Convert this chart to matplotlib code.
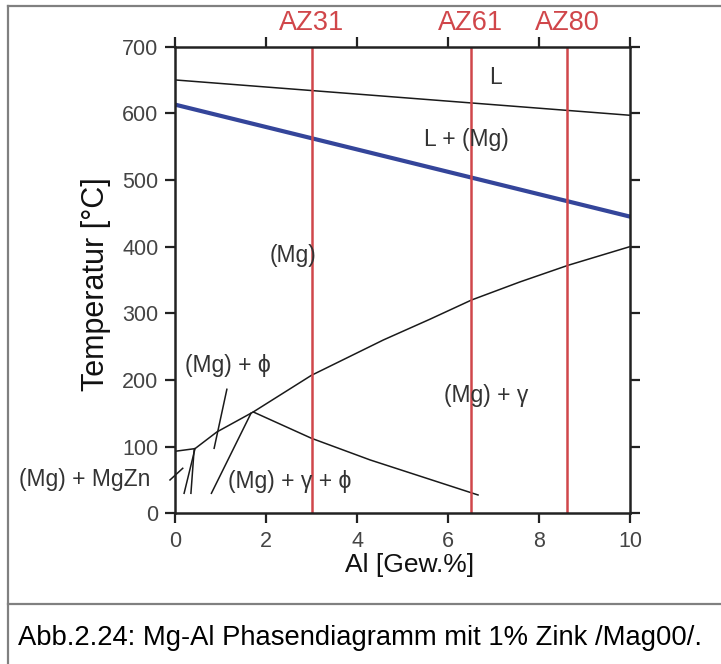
import matplotlib
matplotlib.use("Agg")
import matplotlib.pyplot as plt
from matplotlib.lines import Line2D

plt.rcParams['font.family'] = ['Liberation Sans', 'DejaVu Sans']

# ---- data ----
liquidus_x = [0, 10]
liquidus_T = [650, 597]
solidus_x = [0, 10]
solidus_T = [613, 445]
solvus_x = [0, 0.44, 0.92, 1.72, 3.0, 4.58, 5.6, 6.52, 7.58, 8.64, 10]
solvus_T = [93, 97, 122, 152, 207, 260, 291, 320, 347, 372, 400]
phi_solvus_x = [1.72, 3.0, 4.29, 6.66]
phi_solvus_T = [152, 112.5, 80, 27.5]
phi_line_x = [0.86, 1.14]
phi_line_T = [97.5, 186]
peak_line_x = [0.8, 1.67]
peak_line_T = [30, 150]
mgzn_line1_x = [0.2, 0.44]
mgzn_line1_T = [30, 97]
mgzn_line2_x = [0.35, 0.42]
mgzn_line2_T = [30, 95]
pointer_x = [-0.11, 0.17]
pointer_T = [50, 67.5]

alloy_names = ['AZ31', 'AZ61', 'AZ80']
alloy_al = [3.0, 6.5, 8.62]

region_labels = ['L', 'L + (Mg)', '(Mg)', '(Mg) + ϕ', '(Mg) + γ', '(Mg) + MgZn', '(Mg) + γ + ϕ']
region_x = [7.05, 6.41, 2.6, 1.17, 6.85, -1.98, 2.53]
region_T = [653, 561, 387, 222, 176, 50, 47.5]

x_ticks = [0, 2, 4, 6, 8, 10]
y_ticks = [0, 100, 200, 300, 400, 500, 600, 700]

W, H = 721, 664
fig = plt.figure(figsize=(W / 100, H / 100), dpi=100)
ax = fig.add_axes([175 / W, 1 - 513.3 / H, 455 / W, 466.7 / H])
ax.set_xlim(0, 10)
ax.set_ylim(0, 700)

black = '#1a1a1a'
lw = 1.1
ax.plot(liquidus_x, liquidus_T, color=black, lw=lw)
ax.plot(solidus_x, solidus_T, color='#34459a', lw=3.0)
ax.plot(solvus_x, solvus_T, color=black, lw=lw)
ax.plot(phi_solvus_x, phi_solvus_T, color=black, lw=lw)
ax.plot(phi_line_x, phi_line_T, color=black, lw=lw)
ax.plot(peak_line_x, peak_line_T, color=black, lw=lw)
ax.plot(mgzn_line1_x, mgzn_line1_T, color=black, lw=lw)
ax.plot(mgzn_line2_x, mgzn_line2_T, color=black, lw=lw)
ax.plot(pointer_x, pointer_T, color=black, lw=lw, clip_on=False)

red = '#d0464a'
for name, a in zip(alloy_names, alloy_al):
    ax.axvline(a, color=red, lw=1.8)
    ax.text(a, 735, name, color=red, fontsize=19.5, ha='center', va='center', clip_on=False)

for lab, x, T in zip(region_labels, region_x, region_T):
    ax.text(x, T, lab, fontsize=16.5, color='#333333', ha='center', va='center', clip_on=False)

ax.set_xticks(x_ticks)
ax.set_yticks(y_ticks)
ax.tick_params(direction='out', length=7, width=1.6, color='#222222', labelsize=15.5,
               labelcolor='#444444', top=True, right=True, labeltop=False, labelright=False)
ax.tick_params(axis='x', pad=6)
ax.tick_params(axis='y', pad=5)
for s in ax.spines.values():
    s.set_linewidth(1.8)
    s.set_color('#222222')

ax.text(5.16, -77, 'Al [Gew.%]', fontsize=19, ha='center', va='center', color='#111111')
fig.text(96 / W, 1 - 284 / H, 'Temperatur [°C]', fontsize=22, rotation=90,
         ha='center', va='center', color='#111111')

# frame
gray = '#808080'
fig.add_artist(Line2D([8 / W, 1], [1 - 6 / H, 1 - 6 / H], color=gray, lw=1.6, transform=fig.transFigure))
fig.add_artist(Line2D([8 / W, 8 / W], [0, 1 - 6 / H], color=gray, lw=1.6, transform=fig.transFigure))
fig.add_artist(Line2D([8 / W, 1], [1 - 604 / H, 1 - 604 / H], color=gray, lw=1.6, transform=fig.transFigure))

fig.text(18 / W, 1 - 638 / H, 'Abb.2.24: Mg-Al Phasendiagramm mit 1% Zink /Mag00/.',
         fontsize=19.7, ha='left', va='center', color='black')

fig.savefig('out.png', dpi=100)
